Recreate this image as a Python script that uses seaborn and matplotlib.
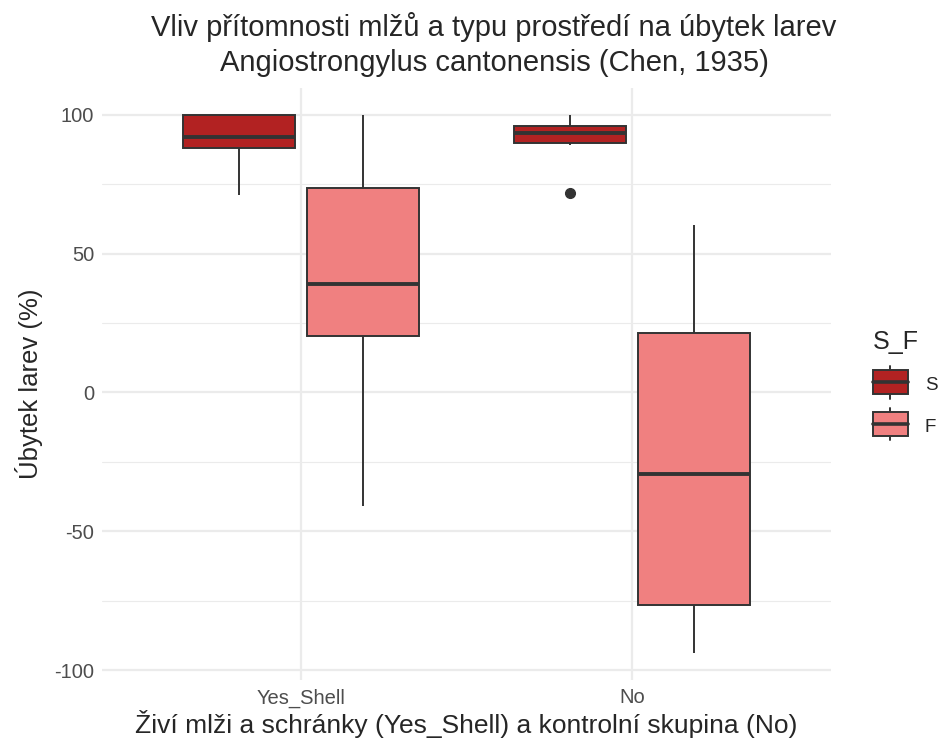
import matplotlib
matplotlib.use('Agg')
import matplotlib.pyplot as plt
from matplotlib.patches import Patch, Rectangle
from matplotlib.lines import Line2D
from matplotlib.legend_handler import HandlerBase
import pandas as pd
import seaborn as sns

# values (9 per group, quartiles fall on the 3rd/5th/7th value)
yes_shell_s = [71.2, 86.0, 88.1, 90.0, 92.0, 95.0, 100.0, 100.0, 100.0]
yes_shell_f = [-40.9, 5.0, 20.4, 30.0, 39.1, 55.0, 73.7, 88.0, 100.0]
no_s = [72.0, 89.0, 90.0, 92.0, 93.5, 95.0, 96.0, 98.0, 100.0]
no_f = [-93.9, -85.0, -76.6, -50.0, -29.4, 0.0, 21.4, 45.0, 60.4]

groups = ['Yes_Shell', 'No']
hues = ['S', 'F']
colors = {'S': '#B22222', 'F': '#F08080'}
edge = '#333333'

rows = []
for g, h, vals in [('Yes_Shell', 'S', yes_shell_s), ('Yes_Shell', 'F', yes_shell_f),
                   ('No', 'S', no_s), ('No', 'F', no_f)]:
    for v in vals:
        rows.append({'group': g, 'S_F': h, 'value': v})
df = pd.DataFrame(rows)


class BoxHandler(HandlerBase):
    # small ggplot-like box key: whisker, box, median
    def create_artists(self, legend, orig, xd, yd, width, height, fontsize, trans):
        cx = xd + width / 2
        box = Rectangle((xd, yd), width, height, facecolor=orig.get_facecolor(),
                        edgecolor=edge, linewidth=1.4, transform=trans)
        med = Line2D([xd, xd + width], [yd + height / 2] * 2, color=edge, lw=2.6, transform=trans)
        w1 = Line2D([cx, cx], [yd + height, yd + height * 1.18], color=edge, lw=1.4, transform=trans)
        w2 = Line2D([cx, cx], [yd - height * 0.18, yd], color=edge, lw=1.4, transform=trans)
        return [w1, w2, box, med]


sns.set_style('white')
plt.rcParams['font.family'] = ['Liberation Sans', 'DejaVu Sans']
plt.rcParams['axes.unicode_minus'] = False

fig = plt.figure(figsize=(9.43, 7.44), dpi=100)
ax = fig.add_axes([102.4 / 943, 1 - 680 / 744, (830.6 - 102.4) / 943, (680 - 88) / 744])

sns.boxplot(data=df, x='group', y='value', hue='S_F', order=groups, hue_order=hues,
            palette=colors, saturation=1, width=0.75, gap=0.1, linecolor=edge,
            linewidth=1.4, whis=1.5, ax=ax, legend=False,
            medianprops={'linewidth': 2.8, 'color': edge},
            capprops={'linewidth': 0},
            flierprops={'marker': 'o', 'markerfacecolor': edge, 'markeredgecolor': edge,
                        'markersize': 7})

ax.set_xlim(-0.6, 1.6)
ax.set_ylim(-103.6, 109.7)
ax.set_yticks([-100, -50, 0, 50, 100])
ax.set_yticks([-75, -25, 25, 75], minor=True)
ax.grid(True, which='major', color='#EBEBEB', linewidth=1.6)
ax.grid(True, which='minor', axis='y', color='#EBEBEB', linewidth=0.8)
ax.set_axisbelow(True)
for s in ax.spines.values():
    s.set_visible(False)
ax.tick_params(which='both', length=0, labelsize=14.5, labelcolor='#4D4D4D', pad=6)

ax.set_xlabel('Živí mlži a schránky (Yes_Shell) a kontrolní skupina (No)', fontsize=19, labelpad=2)
ax.set_ylabel('Úbytek larev (%)', fontsize=18.5, labelpad=8)

fig.text(494 / 943, 1 - 44.5 / 744,
         'Vliv přítomnosti mlžů a typu prostředí na úbytek larev\nAngiostrongylus cantonensis (Chen, 1935)',
         ha='center', va='center', fontsize=21, linespacing=1.35)

handles = [Patch(facecolor=colors[h]) for h in hues]
leg = fig.legend(handles, hues, title='S_F', loc='center left', bbox_to_anchor=(856 / 943, 1 - 389 / 744),
                 frameon=False, fontsize=13.5, title_fontsize=18, handler_map={Patch: BoxHandler()},
                 handlelength=1.87, handleheight=1.6, labelspacing=0.95, handletextpad=0.9,
                 borderpad=0.4)
leg._legend_box.align = 'left'
leg._legend_box.sep = 20
for t in leg.get_texts():
    t.set_position((0, 10))

fig.savefig('out.png', dpi=100)
